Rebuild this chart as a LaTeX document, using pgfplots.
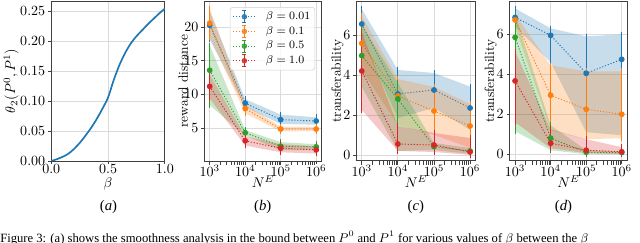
\documentclass[border=0pt]{standalone}
\usepackage{fontspec}
\newfontfamily\capfont{Liberation Serif}
\usepackage{pgfplots}
\usepackage{pgfplotstable}
\pgfplotsset{compat=1.18}
\definecolor{c0}{HTML}{1F77B4}
\definecolor{c1}{HTML}{FF7F0E}
\definecolor{c2}{HTML}{2CA02C}
\definecolor{c3}{HTML}{D62728}

% columns: x, then y/lo/hi for blue (b), orange (o), green (g), red (r)
\pgfplotstableread{
x       yb    lb    hb    yo    lo    ho    yg    lg    hg    yr    lr    hr
1000    20.3  18.2  22.4  20.6  18.5  22.8  13.6  8.4   17.3  11.2  9.4   13.0
10000   8.7   8.1   9.3   7.9   7.2   8.5   4.3   3.9   4.7   3.1   2.4   3.8
100000  6.25  5.6   7.0   4.85  4.5   5.2   2.3   1.7   2.9   2.0   1.4   2.6
1000000 6.05  5.5   6.6   4.85  4.55  5.2   2.2   1.7   2.6   1.75  1.2   2.3
}\tabB
\pgfplotstableread{
x       yb    lb    hb    yo    lo    ho    yg    lg    hg    yr    lr    hr
1000    6.55  5.8   7.3   5.58  4.25  6.95  4.97  3.4   6.5   4.2   2.25  6.15
10000   3.05  1.85  4.25  2.95  1.5   3.8   2.8   0.2   3.6   0.55  0.2   1.45
100000  3.25  2.35  4.1   2.2   1.0   3.4   0.42  0.25  0.6   0.5   0.15  1.1
1000000 2.35  1.25  3.42  1.45  0.35  2.55  0.2   0.05  0.35  0.15  0.0   0.85
}\tabC
\pgfplotstableread{
x       yb    lb    hb    yo    lo    ho    yg    lg    hg    yr    lr    hr
1000    6.85  6.4   7.3   6.72  6.4   7.0   5.85  1.15  7.0   3.67  1.6   5.15
10000   5.95  4.6   6.3   2.95  1.2   4.45  0.8   0.2   1.45  0.55  0.3   1.25
100000  4.05  1.1   5.9   2.25  0.75  4.15  0.1   0.0   0.2   0.2   0.05  0.75
1000000 4.75  0.95  6.0   2.0   0.8   4.15  0.08  0.0   0.15  0.12  0.0   0.35
}\tabD
\pgfplotstableread{
b     t
0     0
0.05  0.003
0.1   0.007
0.15  0.012
0.2   0.020
0.25  0.030
0.3   0.042
0.35  0.055
0.4   0.070
0.45  0.087
0.5   0.106
0.55  0.135
0.6   0.160
0.65  0.180
0.7   0.196
0.75  0.208
0.8   0.218
0.85  0.228
0.9   0.237
0.95  0.246
1.0   0.254
}\tabA

% polygon tables for the bands: rows ascending, then the same rows descending
\pgfplotstablesort[sort key=x, sort cmp=float <]{\polyB}{\tabB}
\pgfplotstablesort[sort key=x, sort cmp=float >]{\revB}{\tabB}
\pgfplotstablevertcat{\polyB}{\revB}
\pgfplotstablesort[sort key=x, sort cmp=float <]{\polyC}{\tabC}
\pgfplotstablesort[sort key=x, sort cmp=float >]{\revC}{\tabC}
\pgfplotstablevertcat{\polyC}{\revC}
\pgfplotstablesort[sort key=x, sort cmp=float <]{\polyD}{\tabD}
\pgfplotstablesort[sort key=x, sort cmp=float >]{\revD}{\tabD}
\pgfplotstablevertcat{\polyD}{\revD}

% #1 table, #2 colour, #3 column suffix, #4 polygon table
\newcommand\series[4]{%
  \addplot[fill=#2, fill opacity=0.25, draw=none, forget plot]
    table[x=x, y expr={ifthenelse(\coordindex<4, \thisrow{l#3}, \thisrow{h#3})}]{#4};
  \addplot[#2, line width=0.7pt, dash pattern=on 0.8pt off 1.3pt, mark=*, mark size=1.7pt,
    mark options={solid}, forget plot,
    error bars/.cd, y dir=both, y explicit,
    error bar style={solid, line width=0.6pt},
    error mark options={solid, line width=0.6pt, mark size=2pt}]
    table[x=x, y=y#3, y error plus expr=\thisrow{h#3}-\thisrow{y#3},
          y error minus expr=\thisrow{y#3}-\thisrow{l#3}]{#1};
}

\newcommand\legimg[1]{%
  \addlegendimage{#1, legend image code/.code={
    \draw[#1, solid, line width=0.6pt] (0.275cm,-0.15cm)--(0.275cm,0.15cm);
    \draw[#1, solid, line width=0.6pt] (0.225cm,-0.15cm)--(0.325cm,-0.15cm);
    \draw[#1, solid, line width=0.6pt] (0.225cm,0.15cm)--(0.325cm,0.15cm);
    \draw[#1, line width=0.7pt, dash pattern=on 0.8pt off 1.3pt] (0cm,0cm)--(0.55cm,0cm);
    \fill[#1] (0.275cm,0cm) circle (1.7pt);
  }}}

\pgfplotsset{
  mybase/.style={
    scale only axis, anchor=north west, height=114pt,
    axis line style={black!75, line width=0.7pt},
    grid=major, major grid style={black!14, line width=0.6pt},
    tick pos=left, tick align=outside, major tick length=2.1pt,
    tick style={black!75, line width=0.6pt},
    tick label style={font=\fontsize{9.6}{11}\selectfont},
    yticklabel style={inner sep=2pt},
    xticklabel style={inner sep=0.4pt},
    label style={font=\fontsize{9.6}{11}\selectfont},
    xlabel style={at={(axis description cs:0.5,0)}, anchor=north, inner sep=0pt, yshift=-10pt},
  },
}

\begin{document}
\begin{tikzpicture}
\useasboundingbox (0,0) rectangle (456pt,-173.1pt);
\clip (0,0) rectangle (456pt,-173.1pt);

% (a)
\begin{axis}[mybase, at={(36.5pt,-0.71pt)}, width=81pt,
  xmin=0, xmax=1, ymin=0, ymax=0.2667,
  xtick={0,0.5,1}, ytick={0,0.05,0.1,0.15,0.2,0.25},
  xticklabel style={/pgf/number format/fixed, /pgf/number format/fixed zerofill, /pgf/number format/precision=1},
  yticklabel style={/pgf/number format/fixed, /pgf/number format/fixed zerofill, /pgf/number format/precision=2},
  xlabel={$\beta$}, xlabel style={yshift=-1.6pt},
  ylabel={$\theta_2(P^0,P^1)$},
  ylabel style={at={(axis description cs:-0.284,0.5)}, anchor=south, inner sep=0pt}]
\addplot[c0, line width=1.2pt, smooth] table[x=b, y=t]{\tabA};
\end{axis}

% (b)
\begin{axis}[mybase, at={(145.6pt,-0.71pt)}, width=83.5pt,
  xmode=log, xmin=707.9, xmax=1412538,
  xtick={1000,10000,100000,1000000}, xlabel={$N^E$},
  ymin=0.1, ymax=23.9, ytick={5,10,15,20}, ylabel={reward distance},
  ylabel style={at={(axis description cs:-0.137,0.5)}, anchor=south, inner sep=0pt},
  legend style={at={(1,1)}, anchor=north east, xshift=-4.6pt, yshift=-4.3pt,
    draw=black!18, rounded corners=2pt, fill=white, fill opacity=0.8, text opacity=1,
    font=\fontsize{8.2}{10}\selectfont, row sep=1pt, column sep=6pt, inner sep=2pt,
    nodes={inner sep=1.2pt}},
  legend cell align=left]
\series{\tabB}{c0}{b}{\polyB}
\series{\tabB}{c1}{o}{\polyB}
\series{\tabB}{c2}{g}{\polyB}
\series{\tabB}{c3}{r}{\polyB}
\legimg{c0}\addlegendentry{$\beta = 0.01$}
\legimg{c1}\addlegendentry{$\beta = 0.1$}
\legimg{c2}\addlegendentry{$\beta = 0.5$}
\legimg{c3}\addlegendentry{$\beta = 1.0$}
\end{axis}

% (c)
\begin{axis}[mybase, at={(253.9pt,-0.71pt)}, width=84.9pt,
  xmode=log, xmin=707.9, xmax=1412538,
  xtick={1000,10000,100000,1000000}, xlabel={$N^E$},
  ymin=-0.3, ymax=7.7, ytick={0,2,4,6}, ylabel={transferability},
  ylabel style={at={(axis description cs:-0.105,0.5)}, anchor=south, inner sep=0pt}]
\series{\tabC}{c0}{b}{\polyC}
\series{\tabC}{c1}{o}{\polyC}
\series{\tabC}{c2}{g}{\polyC}
\series{\tabC}{c3}{r}{\polyC}
\end{axis}

% (d)
\begin{axis}[mybase, at={(363.2pt,-0.71pt)}, width=83.6pt,
  xmode=log, xmin=707.9, xmax=1412538,
  xtick={1000,10000,100000,1000000}, xlabel={$N^E$},
  ymin=-0.34, ymax=7.67, ytick={0,2,4,6}, ylabel={transferability},
  ylabel style={at={(axis description cs:-0.107,0.5)}, anchor=south, inner sep=0pt}]
\series{\tabD}{c0}{b}{\polyD}
\series{\tabD}{c1}{o}{\polyD}
\series{\tabD}{c2}{g}{\polyD}
\series{\tabD}{c3}{r}{\polyD}
\end{axis}

\begin{scope}[every node/.style={font=\capfont\fontsize{10.5}{12}\selectfont}]
\node at (77.3pt,-147.5pt) {(\textit{a})};
\node at (187.2pt,-147.5pt) {(\textit{b})};
\node at (296.3pt,-147.5pt) {(\textit{c})};
\node at (401.5pt,-147.5pt) {(\textit{d})};
\end{scope}
\node[anchor=base west, inner sep=0pt, font=\capfont\fontsize{9}{11}\selectfont] at (0pt,-172.6pt)
  {Figure 3: (a) shows the smoothness analysis in the bound between $P^0$ and $P^1$ for various values of $\beta$ between the $\beta$};
\end{tikzpicture}
\end{document}
